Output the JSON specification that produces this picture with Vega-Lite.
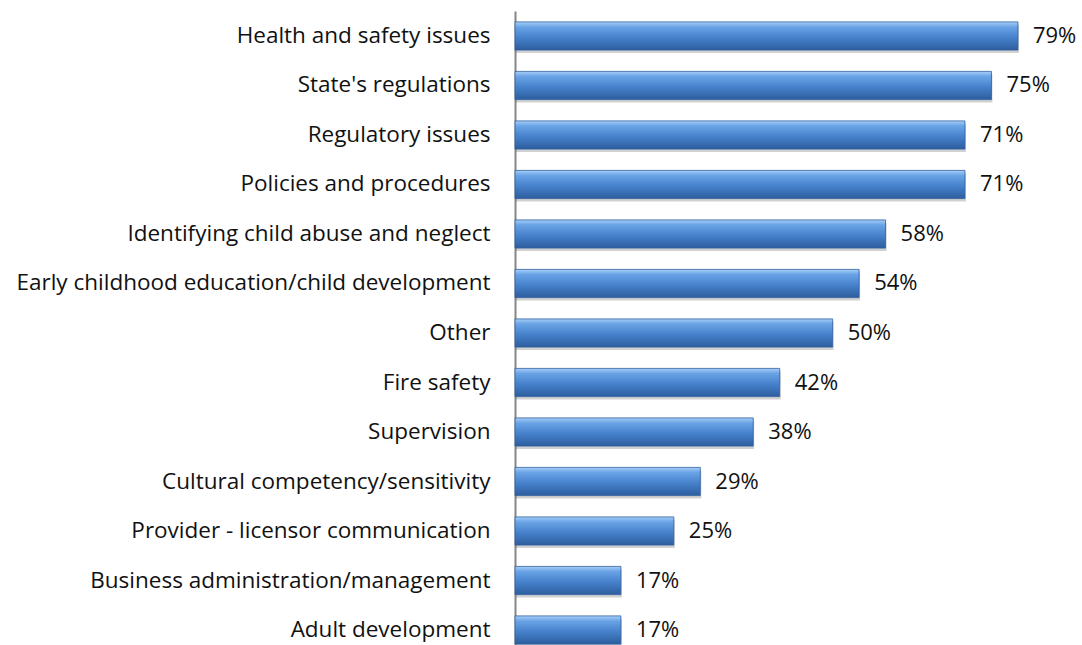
{
  "$schema": "https://vega.github.io/schema/vega-lite/v6.json",
  "width": 540,
  "height": 644,
  "autosize": "none",
  "padding": {"left": 515, "top": 11, "right": 27, "bottom": 0},
  "background": "white",
  "config": {"view": {"stroke": null}, "font": "Open Sans"},
  "data": {"values": [
    {"topic": "Health and safety issues", "pct": 0.7917},
    {"topic": "State's regulations", "pct": 0.75},
    {"topic": "Regulatory issues", "pct": 0.7083},
    {"topic": "Policies and procedures", "pct": 0.7083},
    {"topic": "Identifying child abuse and neglect", "pct": 0.5833},
    {"topic": "Early childhood education/child development", "pct": 0.5417},
    {"topic": "Other", "pct": 0.5},
    {"topic": "Fire safety", "pct": 0.4167},
    {"topic": "Supervision", "pct": 0.375},
    {"topic": "Cultural competency/sensitivity", "pct": 0.2917},
    {"topic": "Provider - licensor communication", "pct": 0.25},
    {"topic": "Business administration/management", "pct": 0.1667},
    {"topic": "Adult development", "pct": 0.1667}
  ]},
  "encoding": {
    "y": {"field": "topic", "type": "nominal", "sort": null,
      "scale": {"paddingInner": 0.43, "paddingOuter": 0.22},
      "axis": {"title": null, "ticks": false, "labelFontSize": 22.5, "labelColor": "#111111", "labelPadding": 25, "domainColor": "#868686", "domainWidth": 2, "labelLimit": 600, "labelFont": "Open Sans"}},
    "x": {"field": "pct", "type": "quantitative", "scale": {"domain": [0, 0.85], "nice": false}, "axis": null}
  },
  "layer": [
    {"mark": {"type": "bar", "color": "#000000", "opacity": 0.18, "yOffset": 3, "xOffset": 1}},
    {"mark": {"type": "bar", "color": {"gradient": "linear", "x1": 0, "y1": 0, "x2": 0, "y2": 1, "stops": [
      {"offset": 0, "color": "#a6cff8"},
      {"offset": 0.18, "color": "#6aa3e6"},
      {"offset": 0.55, "color": "#4682cc"},
      {"offset": 1, "color": "#2d5d9e"}]}, "stroke": "#2f5f9e", "strokeWidth": 0.8}},
    {"mark": {"type": "text", "align": "left", "dx": 15, "fontSize": 22, "color": "#111111", "font": "Open Sans"},
      "encoding": {"text": {"field": "pct", "type": "quantitative", "format": ".0%"}}}
  ]
}
